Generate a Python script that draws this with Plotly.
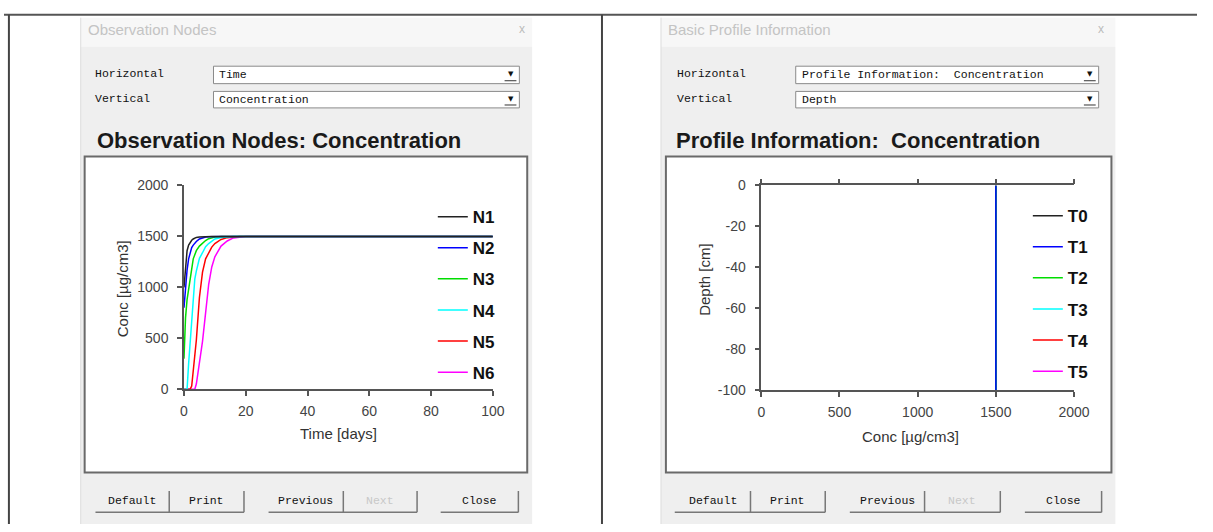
import plotly.graph_objects as go

W, H = 1213, 532


def px(x):
    return x / W


def py(y):
    return 1 - y / H


# ---------------- data ----------------
time_days = [0, 0.5, 1, 1.5, 2, 2.5, 3, 3.5, 4, 5, 6, 7, 8, 9, 10, 12, 14, 16, 18, 20,
             25, 30, 40, 50, 60, 70, 80, 90, 100]
n1 = [1000, 1220, 1360, 1415, 1445, 1462, 1475, 1484, 1490, 1495, 1498, 1499, 1500, 1500, 1500,
      1500, 1500, 1500, 1500, 1500, 1500, 1500, 1500, 1500, 1500, 1500, 1500, 1500, 1500]
n2 = [800, 1000, 1170, 1280, 1340, 1390, 1415, 1435, 1450, 1475, 1488, 1494, 1497, 1499, 1500,
      1500, 1500, 1500, 1500, 1500, 1500, 1500, 1500, 1500, 1500, 1500, 1500, 1500, 1500]
n3 = [300, 700, 880, 990, 1100, 1200, 1280, 1320, 1360, 1405, 1435, 1460, 1478, 1488, 1493,
      1498, 1500, 1500, 1500, 1500, 1500, 1500, 1500, 1500, 1500, 1500, 1500, 1500, 1500]
n4 = [0, 0, 0, 250, 480, 720, 960, 1080, 1160, 1285, 1340, 1400, 1430, 1455, 1475,
      1490, 1497, 1499, 1500, 1500, 1500, 1500, 1500, 1500, 1500, 1500, 1500, 1500, 1500]
n5 = [0, 0, 0, 0, 0, 30, 180, 330, 480, 900, 1150, 1280, 1345, 1395, 1430,
      1470, 1488, 1495, 1498, 1500, 1500, 1500, 1500, 1500, 1500, 1500, 1500, 1500, 1500]
n6 = [0, 0, 0, 0, 0, 0, 0, 0, 50, 250, 470, 750, 1030, 1200, 1300,
      1405, 1455, 1485, 1495, 1499, 1500, 1500, 1500, 1500, 1500, 1500, 1500, 1500, 1500]
node_names = ["N1", "N2", "N3", "N4", "N5", "N6"]
node_series = [n1, n2, n3, n4, n5, n6]

depth_cm = [0, -10, -20, -30, -40, -50, -60, -70, -80, -90, -100]
t0 = [1500, 1500, 1500, 1500, 1500, 1500, 1500, 1500, 1500, 1500, 1500]
t1 = [1500, 1500, 1500, 1500, 1500, 1500, 1500, 1500, 1500, 1500, 1500]
t2 = [1500, 1500, 1500, 1500, 1500, 1500, 1500, 1500, 1500, 1500, 1500]
t3 = [1500, 1500, 1500, 1500, 1500, 1500, 1500, 1500, 1500, 1500, 1500]
t4 = [1500, 1500, 1500, 1500, 1500, 1500, 1500, 1500, 1500, 1500, 1500]
t5 = [1500, 1500, 1500, 1500, 1500, 1500, 1500, 1500, 1500, 1500, 1500]
profile_names = ["T0", "T1", "T2", "T3", "T4", "T5"]
profile_series = [t0, t1, t2, t3, t4, t5]

time_ticks = [0, 20, 40, 60, 80, 100]
time_ticktext = ["0", "20", "40", "60", "80", "100"]
conc_ticks = [0, 500, 1000, 1500, 2000]
conc_ticktext = ["0", "500", "1000", "1500", "2000"]
depth_ticks = [0, -20, -40, -60, -80, -100]
depth_ticktext = ["0", "-20", "-40", "-60", "-80", "-100"]

series_colors = ["#222222", "#0000ff", "#00dd00", "#00ffff", "#ff0000", "#ff00ff"]

# ---------------- traces ----------------
fig = go.Figure()
for i in reversed(range(6)):
    fig.add_trace(go.Scatter(
        x=time_days, y=node_series[i], mode="lines", name=node_names[i],
        line=dict(color=series_colors[i], width=1.5),
        xaxis="x", yaxis="y", legend="legend",
        legendgroup=node_names[i], legendrank=i + 1, hoverinfo="skip"))
for i in [0, 5, 4, 3, 2, 1]:
    fig.add_trace(go.Scatter(
        x=profile_series[i], y=depth_cm, mode="lines", name=profile_names[i],
        line=dict(color=series_colors[i], width=1.5),
        xaxis="x2", yaxis="y2", legend="legend2",
        legendgroup=profile_names[i], legendrank=i + 1, hoverinfo="skip"))

SANS = "Arial, Liberation Sans, sans-serif"
MONO = "Liberation Mono, DejaVu Sans Mono, monospace"
AX = "#555555"

axis_common = dict(showgrid=False, zeroline=False, showline=True, linecolor=AX, linewidth=1.5,
                   ticks="outside", ticklen=5, tickwidth=1.5, tickcolor=AX,
                   tickfont=dict(family=SANS, size=14, color="#444444"), fixedrange=True)
inside_ticks = dict(showgrid=False, zeroline=False, showline=False, ticks="inside", ticklen=4,
                    tickwidth=1.5, tickcolor=AX, showticklabels=False, fixedrange=True)

fig.update_layout(
    xaxis=dict(axis_common, domain=[px(183), px(497)], range=[0, 100], tickvals=time_ticks,
               ticktext=time_ticktext, anchor="y", ticklabelstandoff=3),
    yaxis=dict(axis_common, domain=[py(393), py(183)], range=[0, 2000], tickvals=conc_ticks,
               ticktext=conc_ticktext, anchor="x", ticklabelstandoff=6),
    xaxis2=dict(axis_common, domain=[px(770), px(1088)], range=[0, 2000], tickvals=conc_ticks,
                ticktext=conc_ticktext, anchor="y2", mirror="ticks", ticklabelstandoff=3),
    yaxis2=dict(axis_common, domain=[py(394), py(183)], range=[-100, 0], tickvals=depth_ticks,
                ticktext=depth_ticktext, anchor="x2", ticklabelstandoff=6),
    xaxis3=dict(inside_ticks, overlaying="x", anchor="y", range=[0, 100], tickvals=time_ticks),
    yaxis3=dict(inside_ticks, overlaying="y", anchor="x", range=[0, 2000], tickvals=conc_ticks),
    xaxis4=dict(inside_ticks, overlaying="x2", anchor="y2", range=[0, 2000], tickvals=conc_ticks,
                showline=True, linecolor=AX, linewidth=1.5, mirror="ticks"),
    yaxis4=dict(inside_ticks, overlaying="y2", anchor="x2", range=[-100, 0], tickvals=depth_ticks),
)

legend_common = dict(xanchor="left", yanchor="top", bgcolor="rgba(0,0,0,0)",
                     font=dict(family=SANS, size=17, color="#111111", weight="bold"),
                     tracegroupgap=6, itemwidth=30, borderwidth=0)
fig.update_layout(
    legend=dict(legend_common, x=px(436), y=py(197)),
    legend2=dict(legend_common, x=px(1041), y=py(196)),
)

# ---------------- dialog chrome ----------------
shapes = []
annotations = []


def rect(x0, y0, x1, y1, fill=None, line=None, width=1):
    shapes.append(dict(type="rect", xref="paper", yref="paper", layer="below",
                       x0=px(x0), x1=px(x1), y0=py(y1), y1=py(y0),
                       fillcolor=fill if fill else "rgba(0,0,0,0)",
                       line=dict(color=line if line else "rgba(0,0,0,0)", width=width if line else 0)))


def seg(x0, y0, x1, y1, color, width=1):
    shapes.append(dict(type="line", xref="paper", yref="paper", layer="below",
                       x0=px(x0), x1=px(x1), y0=py(y0), y1=py(y1),
                       line=dict(color=color, width=width)))


def text(x, y, s, size=12, color="#111111", family=SANS, anchor="left", weight="normal", angle=0):
    annotations.append(dict(xref="paper", yref="paper", x=px(x), y=py(y), text=s,
                            showarrow=False, xanchor=anchor, yanchor="middle", textangle=angle,
                            font=dict(family=family, size=size, color=color, weight=weight)))


# outer frame
seg(0, 7, W, 7, "#555555", 2)
seg(5, 7, 5, H, "#444444", 2)
seg(608, 7, 608, H, "#444444", 2)

dialogs = [
    dict(x0=78, x1=537, caption="Observation Nodes", close_x=527, lab_x=91, combo=(213, 524),
         hval="Time", vval="Concentration", title="Observation Nodes: Concentration", title_x=93,
         box=(82, 532), ytitle="Conc [\u00b5g/cm3]", ytitle_x=120, ytitle_y=290,
         xtitle="Time [days]", xtitle_x=340, xtitle_y=439,
         buttons=[(93, 168, 244, "Default", "Print"), (269, 345, 420, "Previous", "Next"),
                  (444, None, 523, "Close", None)]),
    dict(x0=668, x1=1130, caption="Basic Profile Information", close_x=1115, lab_x=682,
         combo=(805, 1113), hval="Profile Information:\u00a0 Concentration", vval="Depth",
         title="Profile Information:\u00a0 Concentration", title_x=681,
         box=(673, 1126), ytitle="Depth [cm]", ytitle_x=712, ytitle_y=280,
         xtitle="Conc [\u00b5g/cm3]", xtitle_x=922, xtitle_y=442,
         buttons=[(682, 759, 835, "Default", "Print"), (860, 936, 1013, "Previous", "Next"),
                  (1038, None, 1116, "Close", None)]),
]

for d in dialogs:
    rect(d["x0"], 10, d["x1"], 40, fill="#f7f7f7")
    rect(d["x0"], 40, d["x1"], H, fill="#efefef")
    seg(d["x0"], 10, d["x0"], H, "#dddddd", 1)
    text(d["x0"] + 5, 22, d["caption"], size=15, color="#c4c4c4")
    text(d["close_x"], 22, "x", size=12, color="#bbbbbb", anchor="center")
    # combos
    cx0, cx1 = d["combo"]
    for (yy0, yy1, lab, val) in [(60, 78, "Horizontal", d["hval"]), (86, 103, "Vertical", d["vval"])]:
        text(d["lab_x"], (yy0 + yy1) / 2 - 1, lab, size=11.5, color="#111111", family=MONO)
        rect(cx0, yy0, cx1, yy1, fill="#ffffff", line="#8a8a8a", width=1)
        text(cx0 + 4, (yy0 + yy1) / 2, val, size=11.5, color="#111111", family=MONO)
        text(cx1 - 9, (yy0 + yy1) / 2 - 1, "\u25bc", size=7, color="#111111",
             family="DejaVu Sans", anchor="center")
        seg(cx1 - 15, yy1 - 3, cx1 - 3, yy1 - 3, "#333333", 1)
    text(d["title_x"], 137, d["title"], size=22, color="#1a1a1a", weight="bold")
    bx0, bx1 = d["box"]
    rect(bx0, 153, bx1, 479, fill="#ffffff", line="#6a6a6a", width=2)
    text(d["ytitle_x"], d["ytitle_y"], d["ytitle"], size=15, color="#333333",
         anchor="center", angle=-90)
    text(d["xtitle_x"], d["xtitle_y"], d["xtitle"], size=15, color="#333333", anchor="center")
    # buttons
    for (b0, bmid, b1, t1_, t2_) in d["buttons"]:
        seg(b0, 520, b1, 520, "#777777", 1.5)
        seg(b1, 498, b1, 520, "#777777", 1.5)
        if bmid is not None:
            seg(bmid, 498, bmid, 520, "#777777", 1.5)
            text((b0 + bmid) / 2, 508, t1_, size=11.5, color="#111111", family=MONO, anchor="center")
            col = "#c8c8c8" if t2_ == "Next" else "#111111"
            text((bmid + b1) / 2, 508, t2_, size=11.5, color=col, family=MONO, anchor="center")
        else:
            text((b0 + b1) / 2, 508, t1_, size=11.5, color="#111111", family=MONO, anchor="center")

fig.update_layout(
    width=W, height=H, autosize=False,
    margin=dict(l=0, r=0, t=0, b=0),
    paper_bgcolor="#ffffff", plot_bgcolor="rgba(0,0,0,0)",
    shapes=shapes, annotations=annotations,
    hovermode=False,
)

fig.write_html("out.html", config={"displayModeBar": False},
               post_script="document.body.style.margin='0';document.body.style.overflow='hidden';")
